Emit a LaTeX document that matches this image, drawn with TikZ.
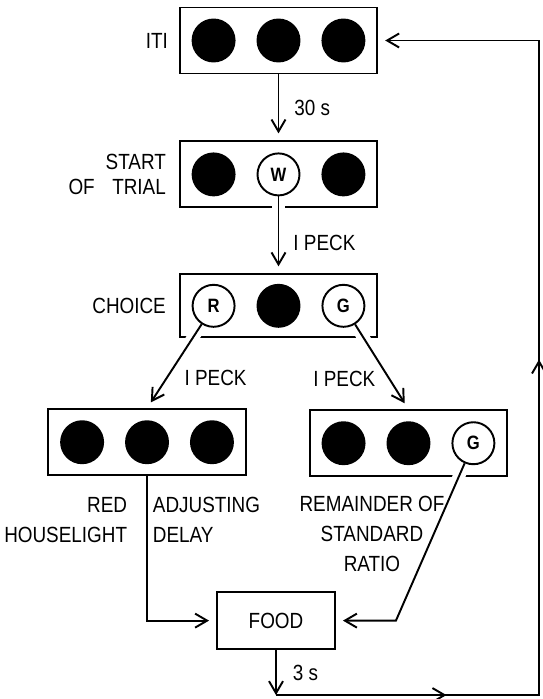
\documentclass[tikz,border=0pt]{standalone}
\usepackage{fontspec}
\setmainfont{Liberation Sans}[FakeStretch=0.86]
\usetikzlibrary{arrows.meta, positioning, decorations.markings}

\begin{document}
\begin{tikzpicture}[
    x=0.02cm, y=-0.02cm,
    line width=1.1pt,
    font=\fontsize{12.5}{13.7}\selectfont,
    panel/.style={draw, minimum width=3.95cm, minimum height=1.32cm, inner sep=0pt},
    lamp/.style={circle, draw, fill=black, minimum size=0.84cm, inner sep=0pt},
    key/.style={lamp, fill=white, font=\fontsize{11}{12}\selectfont\bfseries},
    lbl/.style={inner sep=0pt},
    arr/.style={-{Straight Barb[length=2.4mm, width=2.8mm]}, shorten >=4pt},
    cut/.style={preaction={draw=white, line width=7pt, arrows=-, shorten <=3pt}},
    backarr/.style={decoration={markings,
        mark=at position 0.158 with {\arrow{Straight Barb[length=2.4mm, width=2.8mm]}},
        mark=at position 0.555 with {\arrow{Straight Barb[length=2.4mm, width=2.8mm]}}},
        postaction={decorate}},
]
\useasboundingbox (0,0) rectangle (542,699);

% Panels
\node[panel] (iti) at (278.5,40.5) {};
\node[lamp] (i2) at (iti) {};
\node[lamp, left=0.42cm of i2] (i1) {};
\node[lamp, right=0.42cm of i2] (i3) {};

\node[panel, below=1.32cm of iti] (start) {};
\node[key] (s2) at (start) {W};
\node[lamp, left=0.42cm of s2] (s1) {};
\node[lamp, right=0.42cm of s2] (s3) {};

\node[panel, below=1.3cm of start, minimum height=1.26cm] (choice) {};
\node[lamp] (c2) at (choice) {};
\node[key, left=0.42cm of c2] (c1) {R};
\node[key, right=0.42cm of c2] (c3) {G};

\node[panel, below=1.4cm of choice, xshift=-2.63cm] (red) {};
\node[lamp] (r2) at (red) {};
\node[lamp, left=0.42cm of r2] (r1) {};
\node[lamp, right=0.42cm of r2] (r3) {};

\node[panel, below=1.42cm of choice, xshift=2.6cm] (green) {};
\node[lamp] (g2) at (green) {};
\node[lamp, left=0.42cm of g2] (g1) {};
\node[key, right=0.42cm of g2] (g3) {G};

\node[panel, minimum width=2.36cm, minimum height=1.14cm, below=2.3cm of red, xshift=2.58cm] (food) {FOOD};

% Corners of the return line
\coordinate (gbend) at ([xshift=1.2cm]food.east);
\coordinate[below=0.9cm of food] (loopa);
\coordinate (loopb) at (loopa -| 539,0);
\coordinate (loopc) at (loopb |- iti.east);

% Arrows
\draw[arr] (iti) -- node[lbl, right=0.3cm] {30 s} (start);
\draw[arr, cut] (s2) -- node[lbl, pos=0.6, right=0.28cm] {I PECK} (choice);
\draw[arr, cut] (c1) -- node[lbl, pos=0.64, right=0.34cm] {I PECK} (red.north);
\draw[arr, cut] (c3) -- node[lbl, pos=0.64, left=0.26cm] {I PECK} (green.north);
\draw[arr] (red.south) |- (food.west);
\draw[arr, cut] (g3) -- (gbend) -- (food.east);
\draw[arr, shorten >=0pt] (food) -- node[lbl, right=0.32cm] {3 s} (loopa);
\draw[arr, backarr] (loopa) -- (loopb) -- (loopc) -- (iti);

% Labels
\node[lbl, left=0.2cm of iti] {ITI};
\node[lbl, left=0.24cm of start, align=right] {START\\OF\hspace{7pt} TRIAL};
\node[lbl, left=0.24cm of choice] {CHOICE};
\node[lbl, align=right, below left=0.4cm and 0.38cm of red.south] {RED\\[3.3pt]HOUSELIGHT};
\node[lbl, align=left, below right=0.4cm and 0.1cm of red.south] {ADJUSTING\\[3.3pt]DELAY};
\node[lbl, align=center, below=0.36cm of green.south, xshift=-0.73cm] {REMAINDER OF\\[3.3pt]STANDARD\\[3.3pt]RATIO};

\end{tikzpicture}
\end{document}
